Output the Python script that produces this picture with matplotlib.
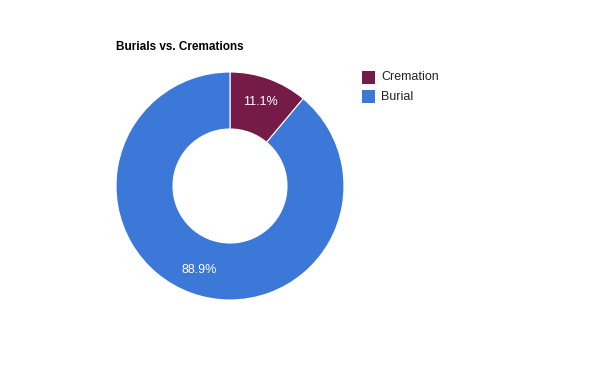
import matplotlib
matplotlib.use("Agg")
import matplotlib.pyplot as plt
from matplotlib.patches import Rectangle

plt.rcParams['font.family'] = ['Liberation Sans', 'DejaVu Sans']

title = "Burials vs. Cremations"
labels = ["Cremation", "Burial"]
values = [11.1, 88.9]
colors = ["#741B47", "#3C78D8"]

fig = plt.figure(figsize=(6, 3.71), dpi=100)
W, H = 600, 371
cx, cy, r = 230, 186, 114
ax = fig.add_axes([(cx - r) / W, (H - cy - r) / H, 2 * r / W, 2 * r / H])
wedges, texts, autotexts = ax.pie(
    values, colors=colors, startangle=90, counterclock=False,
    radius=1.0, autopct='%1.1f%%', pctdistance=0.785,
    wedgeprops=dict(width=0.5, edgecolor='white', linewidth=0.8),
    textprops=dict(color='white', fontsize=9))
ax.set_xlim(-1, 1)
ax.set_ylim(-1, 1)
ax.set_aspect('equal')
ax.axis('off')

fig.text(116 / W, 1 - 46.5 / H, title, fontsize=8.5, fontweight='bold',
         color='black', ha='left', va='center')

for i, (lab, col) in enumerate(zip(labels, colors)):
    y = 77 + 20 * i
    fig.patches.append(Rectangle((362 / W, 1 - (y + 6.5) / H), 13 / W, 13 / H,
                                 transform=fig.transFigure, facecolor=col,
                                 edgecolor='none'))
    fig.text(381 / W, 1 - (y - 0.5) / H, lab, fontsize=9, color='#222222',
             ha='left', va='center')

fig.savefig("out.png", dpi=100, facecolor='white')
